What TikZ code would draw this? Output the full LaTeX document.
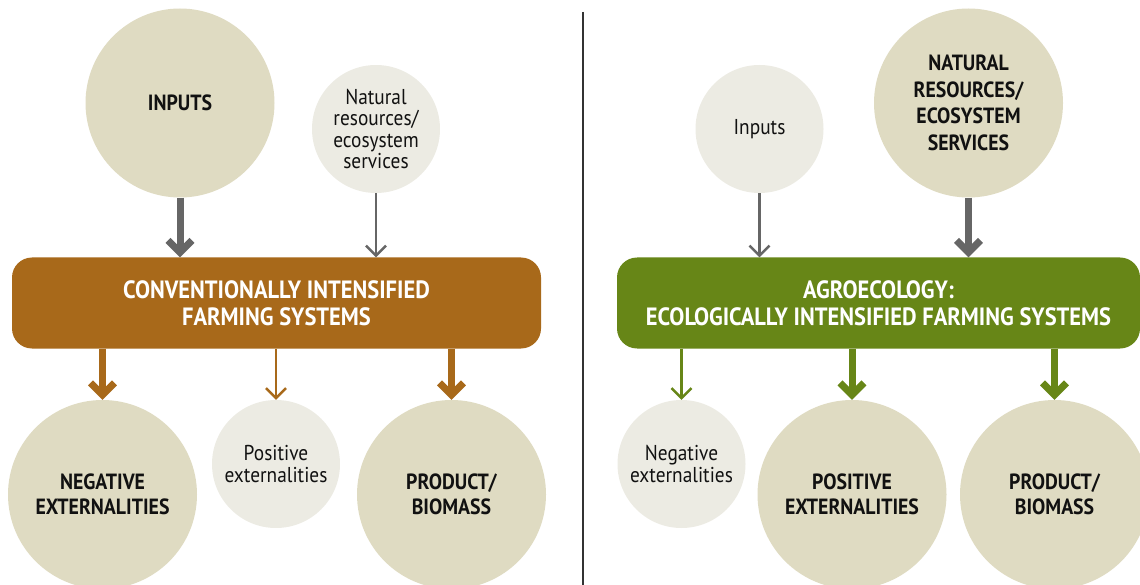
\documentclass[tikz,border=0pt]{standalone}
\usepackage{fontspec}
\setmainfont{PT Sans}[FakeStretch=0.9]
\usetikzlibrary{arrows.meta}
\definecolor{beige}{HTML}{DFDBC2}
\definecolor{pale}{HTML}{ECEBE3}
\definecolor{brownbox}{HTML}{A8691A}
\definecolor{greenbox}{HTML}{678617}
\definecolor{arrgray}{HTML}{666666}
\definecolor{divider}{HTML}{333333}
\definecolor{ink}{HTML}{111111}
\begin{document}
\begin{tikzpicture}[x=1pt,y=-1pt,
  bigc/.style={circle,fill=beige,minimum size=189pt,inner sep=0pt,align=center,text=ink,
    font=\fontsize{22}{24.5}\selectfont\bfseries},
  smallc/.style={circle,fill=pale,minimum size=128pt,inner sep=0pt,align=center,text=ink,
    font=\fontsize{21.5}{21.5}\selectfont},
  sysbox/.style={rounded corners=20pt,minimum height=91pt,inner sep=0pt,align=center,text=white,
    font=\fontsize{25}{27}\selectfont\bfseries},
  bigarrow/.style={line width=7pt,-{Straight Barb[length=12pt,width=24pt]}},
  smallarrow/.style={line width=2.5pt,-{Straight Barb[length=10pt,width=20pt]}}]
\useasboundingbox (0,0) rectangle (1140,585);

% divider
\coordinate (dtop) at (582.5,12);
\coordinate (dbot) at (582.5,585);
\draw[divider,line width=2pt] (dtop) -- (dbot);

% ---------- left ----------
\node[bigc] (inL) at (180,103) {INPUTS};
\node[smallc] (nrL) at (376,129) {Natural\\resources/\\ecosystem\\services};
\node[sysbox,fill=brownbox,minimum width=529pt] (boxL) at (276.5,303)
  {CONVENTIONALLY INTENSIFIED\\FARMING SYSTEMS};
\node[bigc] (negL) at (102.5,494.5) {NEGATIVE\\EXTERNALITIES};
\node[smallc] (posL) at (276,464) {Positive\\externalities};
\node[bigc] (prodL) at (451.5,494.5) {PRODUCT/\\BIOMASS};

\draw[bigarrow,arrgray] (inL.south) -- (inL.south |- boxL.north);
\draw[smallarrow,arrgray] (nrL.south) -- (nrL.south |- boxL.north);
\draw[bigarrow,brownbox] (negL.north |- boxL.south) -- (negL.north);
\draw[smallarrow,brownbox] (posL.north |- boxL.south) -- (posL.north);
\draw[bigarrow,brownbox] (prodL.north |- boxL.south) -- (prodL.north);

% ---------- right ----------
\node[smallc] (inR) at (759.5,129) {Inputs};
\node[bigc,font=\fontsize{22}{26.5}\selectfont\bfseries] (nrR) at (968.5,103)
  {NATURAL\\RESOURCES/\\ECOSYSTEM\\SERVICES};
\node[sysbox,fill=greenbox,minimum width=523pt] (boxR) at (878.5,303)
  {AGROECOLOGY:\\ECOLOGICALLY INTENSIFIED FARMING SYSTEMS};
\node[smallc] (negR) at (681.5,464) {Negative\\externalities};
\node[bigc] (posR) at (852,494.5) {POSITIVE\\EXTERNALITIES};
\node[bigc] (prodR) at (1054.5,494.5) {PRODUCT/\\BIOMASS};

\draw[smallarrow,arrgray] (inR.south) -- (inR.south |- boxR.north);
\draw[bigarrow,arrgray] (nrR.south) -- (nrR.south |- boxR.north);
\draw[smallarrow,greenbox] (negR.north |- boxR.south) -- (negR.north);
\draw[bigarrow,greenbox] (posR.north |- boxR.south) -- (posR.north);
\draw[bigarrow,greenbox] (prodR.north |- boxR.south) -- (prodR.north);
\end{tikzpicture}
\end{document}
